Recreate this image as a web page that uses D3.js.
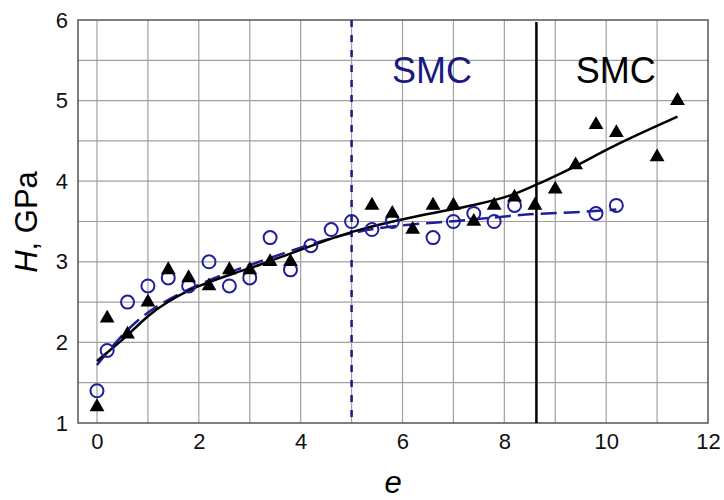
<!DOCTYPE html>
<html>
<head>
<meta charset="utf-8">
<script src="https://cdn.jsdelivr.net/npm/d3@7"></script>
<style>
  body { margin: 0; background: #fff; }
  svg text { font-family: "Liberation Sans", Arial, sans-serif; }
</style>
</head>
<body>
<div id="chart"></div>
<script>
// black triangles
const triX = [0, 0.2, 0.6, 1.0, 1.4, 1.8, 2.2, 2.6, 3.0, 3.4, 3.8, 5.4, 5.8, 6.2, 6.6, 7.0, 7.4, 7.8, 8.2, 8.6, 9.0, 9.4, 9.8, 10.2, 11.0, 11.4]
const triY = [1.2, 2.3, 2.1, 2.5, 2.9, 2.8, 2.7, 2.9, 2.9, 3.0, 3.0, 3.7, 3.6, 3.4, 3.7, 3.7, 3.5, 3.7, 3.8, 3.7, 3.9, 4.2, 4.7, 4.6, 4.3, 5.0]
// blue open circles
const cirX = [0, 0.2, 0.6, 1.0, 1.4, 1.8, 2.2, 2.6, 3.0, 3.4, 3.8, 4.2, 4.6, 5.0, 5.4, 5.8, 6.6, 7.0, 7.4, 7.8, 8.2, 9.8, 10.2]
const cirY = [1.4, 1.9, 2.5, 2.7, 2.8, 2.7, 3.0, 2.7, 2.8, 3.3, 2.9, 3.2, 3.4, 3.5, 3.4, 3.5, 3.3, 3.5, 3.6, 3.5, 3.7, 3.6, 3.7]
// fitted curves
const fitBlackX = [0, 0.6, 1.0, 1.4, 1.8, 2.2, 2.7, 3.2, 3.7, 4.3, 5.0, 6.2, 7.5, 8.2, 8.64, 9.4, 10.1, 11.4]
const fitBlackY = [1.77, 2.08, 2.34, 2.51, 2.65, 2.75, 2.86, 2.96, 3.08, 3.22, 3.38, 3.56, 3.71, 3.83, 3.96, 4.18, 4.43, 4.8]
const fitBlueX = [0, 0.6, 1.2, 2.2, 3, 4, 4.8, 5.4, 6.2, 7, 7.8, 8.6, 9.4, 10.2]
const fitBlueY = [1.72, 2.18, 2.48, 2.78, 2.96, 3.18, 3.33, 3.41, 3.47, 3.5, 3.55, 3.6, 3.61, 3.65]
const xTicks = [0, 2, 4, 6, 8, 10, 12]
const yTicks = [1, 2, 3, 4, 5, 6]
const blueLineX = 5.0
const blackLineX = 8.63

const width = 724, height = 500
const plot = { left: 78, right: 708, top: 20, bottom: 423 }
const blue = "#1f1f9a", navy = "#1a1a80"

let svg = d3.select("#chart").append("svg")
    .attr("width", width)
    .attr("height", height)

let x = d3.scaleLinear().domain([-0.373, 12]).range([plot.left, plot.right])
let y = d3.scaleLinear().domain([1, 6]).range([plot.bottom, plot.top])

// grid
svg.append("g")
    .selectAll("line")
    .data(d3.range(0, 12, 1))
    .enter().append("line")
    .attr("x1", d => x(d)).attr("x2", d => x(d))
    .attr("y1", plot.top).attr("y2", plot.bottom)
    .attr("stroke", "#a0a0a0").attr("stroke-width", 1.2)
svg.append("g")
    .selectAll("line")
    .data(d3.range(1.5, 6, 0.5))
    .enter().append("line")
    .attr("x1", plot.left).attr("x2", plot.right)
    .attr("y1", d => y(d)).attr("y2", d => y(d))
    .attr("stroke", "#a0a0a0").attr("stroke-width", 1.2)

// frame
svg.append("rect")
    .attr("x", plot.left).attr("y", plot.top)
    .attr("width", plot.right - plot.left).attr("height", plot.bottom - plot.top)
    .attr("fill", "none").attr("stroke", "#555").attr("stroke-width", 1.5)

// axes
let xAxis = svg.append("g")
    .attr("transform", `translate(0,${plot.bottom})`)
    .call(d3.axisBottom(x).tickValues(xTicks).tickSize(0).tickPadding(10).tickFormat(d3.format("d")))
xAxis.select(".domain").remove()
xAxis.selectAll("text").attr("font-size", 22).attr("fill", "#111")
    .attr("font-family", "Liberation Sans, Arial, sans-serif")

let yAxis = svg.append("g")
    .attr("transform", `translate(${plot.left},0)`)
    .call(d3.axisLeft(y).tickValues(yTicks).tickSize(0).tickPadding(10).tickFormat(d3.format("d")))
yAxis.select(".domain").remove()
yAxis.selectAll("text").attr("font-size", 22).attr("fill", "#111")
    .attr("font-family", "Liberation Sans, Arial, sans-serif")

// vertical markers
svg.append("line")
    .attr("x1", x(blueLineX)).attr("x2", x(blueLineX))
    .attr("y1", plot.top).attr("y2", plot.bottom)
    .attr("stroke", navy).attr("stroke-width", 2.5)
    .attr("stroke-dasharray", "7,8")
svg.append("line")
    .attr("x1", x(blackLineX)).attr("x2", x(blackLineX))
    .attr("y1", plot.top + 2).attr("y2", plot.bottom)
    .attr("stroke", "#000").attr("stroke-width", 2.5)

// fit curves
let line = d3.line()
    .x(d => x(d[0]))
    .y(d => y(d[1]))
    .curve(d3.curveBasis)

svg.append("path")
    .datum(d3.zip(fitBlueX, fitBlueY))
    .attr("d", line)
    .attr("fill", "none")
    .attr("stroke", blue).attr("stroke-width", 2.5)
    .attr("stroke-dasharray", "16,7")

svg.append("path")
    .datum(d3.zip(fitBlackX, fitBlackY))
    .attr("d", line)
    .attr("fill", "none")
    .attr("stroke", "#000").attr("stroke-width", 2.5)

// markers
svg.append("g")
    .selectAll("circle")
    .data(d3.zip(cirX, cirY))
    .enter().append("circle")
    .attr("cx", d => x(d[0]))
    .attr("cy", d => y(d[1]))
    .attr("r", 6.5)
    .attr("fill", "none")
    .attr("stroke", blue).attr("stroke-width", 2)

svg.append("g")
    .selectAll("path")
    .data(d3.zip(triX, triY))
    .enter().append("path")
    .attr("d", d3.symbol().type(d3.symbolTriangle).size(95))
    .attr("transform", d => `translate(${x(d[0])},${y(d[1])})`)
    .attr("fill", "#000")

// labels
svg.append("text")
    .attr("x", x(6.58)).attr("y", 83)
    .attr("text-anchor", "middle")
    .attr("font-size", 36).attr("fill", navy)
    .text("SMC")
svg.append("text")
    .attr("x", x(10.19)).attr("y", 83)
    .attr("text-anchor", "middle")
    .attr("font-size", 36).attr("fill", "#000")
    .text("SMC")

let yl = svg.append("text")
    .attr("transform", `translate(37,222) rotate(-90)`)
    .attr("text-anchor", "middle")
    .attr("font-size", 31).attr("fill", "#000")
yl.append("tspan").attr("font-style", "italic").text("H")
yl.append("tspan").text(", GPa")

svg.append("text")
    .attr("x", (plot.left + plot.right) / 2).attr("y", 493)
    .attr("text-anchor", "middle")
    .attr("font-size", 31).attr("font-style", "italic")
    .text("e")
</script>
</body>
</html>
